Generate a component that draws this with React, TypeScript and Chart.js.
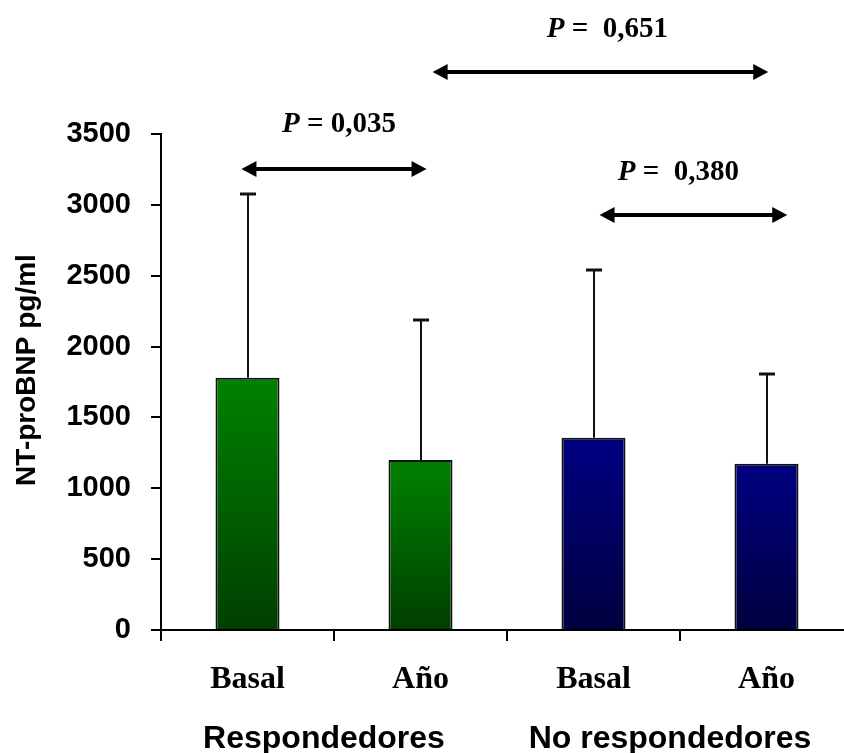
import { useEffect, useRef } from "react";
import { Chart, registerables } from "chart.js";

Chart.register(...registerables);

// Bars: mean NT-proBNP (pg/ml) per group and time point
const categories = ["Basal", "Año", "Basal", "Año"];
const groups = ["Respondedores", "No respondedores"];
const medias = [1780, 1200, 1357, 1174];
// Upper error bar (standard deviation) above each mean
const desviaciones = [1295, 988, 1185, 635];
const yTickStep = 500;
const yMax = 3500;

// Comparisons: arrow span (category units), arrow level and P-value labels
const compDesde = [-0.035, 1.07, 2.035];
const compHasta = [1.035, 3.01, 3.12];
const compNivel = [3253, 3937, 2928];
const compTexto = ["= 0,035", "=  0,651", "=  0,380"];
const compTextoX = [0.2, 1.73, 2.14];
const compTextoNivel = [3514, 4184, 3175];

const greenStops = ["#008000", "#007a00", "#003f00"];
const blueStops = ["#000080", "#00007a", "#00003f"];

const SANS = '"Liberation Sans", Arial, sans-serif';
const SERIF = '"Liberation Serif", "Times New Roman", serif';

const overlayPlugin = {
  id: "overlay",
  beforeDatasetsDraw(chart: any) {
    const { ctx } = chart;
    const xs = chart.scales.x;
    const ys = chart.scales.y;
    ctx.save();
    ctx.strokeStyle = "#111";
    medias.forEach((m, i) => {
      const x = Math.round(xs.getPixelForValue(i));
      const yb = ys.getPixelForValue(m);
      const yt = Math.round(ys.getPixelForValue(m + desviaciones[i]));
      ctx.lineWidth = 2;
      ctx.beginPath();
      ctx.moveTo(x, yb);
      ctx.lineTo(x, yt);
      ctx.stroke();
      ctx.lineWidth = 3;
      ctx.beginPath();
      ctx.moveTo(x - 8, yt);
      ctx.lineTo(x + 8, yt);
      ctx.stroke();
    });
    ctx.restore();
  },
  afterDraw(chart: any) {
    const { ctx } = chart;
    const xs = chart.scales.x;
    const ys = chart.scales.y;
    ctx.save();
    ctx.fillStyle = "#000";
    ctx.strokeStyle = "#000";

    // double-headed arrows
    compDesde.forEach((d, i) => {
      const x1 = xs.getPixelForValue(d);
      const x2 = xs.getPixelForValue(compHasta[i]);
      const y = ys.getPixelForValue(compNivel[i]);
      const hl = 15;
      const hw = 8;
      ctx.lineWidth = 4;
      ctx.beginPath();
      ctx.moveTo(x1 + hl - 2, y);
      ctx.lineTo(x2 - hl + 2, y);
      ctx.stroke();
      ctx.beginPath();
      ctx.moveTo(x1, y);
      ctx.lineTo(x1 + hl, y - hw);
      ctx.lineTo(x1 + hl, y + hw);
      ctx.closePath();
      ctx.fill();
      ctx.beginPath();
      ctx.moveTo(x2, y);
      ctx.lineTo(x2 - hl, y - hw);
      ctx.lineTo(x2 - hl, y + hw);
      ctx.closePath();
      ctx.fill();

      // P-value label
      const tx = xs.getPixelForValue(compTextoX[i]);
      const ty = ys.getPixelForValue(compTextoNivel[i]);
      ctx.textBaseline = "alphabetic";
      ctx.textAlign = "left";
      ctx.font = `italic bold 29px ${SERIF}`;
      ctx.fillText("P", tx, ty);
      const w = ctx.measureText("P").width;
      ctx.font = `bold 29px ${SERIF}`;
      ctx.fillText(" " + compTexto[i], tx + w, ty);
    });

    // group labels under the category labels
    ctx.font = `bold 32px ${SANS}`;
    ctx.textAlign = "center";
    ctx.textBaseline = "alphabetic";
    groups.forEach((g, gi) => {
      const cx = (xs.getPixelForValue(gi * 2) + xs.getPixelForValue(gi * 2 + 1)) / 2 - 10;
      ctx.fillText(g, cx, 748);
    });

    // y-axis title
    ctx.translate(27, 370);
    ctx.rotate(-Math.PI / 2);
    ctx.font = `bold 28px ${SANS}`;
    ctx.textAlign = "center";
    ctx.textBaseline = "middle";
    ctx.fillText("NT-proBNP pg/ml", 0, 0);
    ctx.restore();
  },
};

export default function App() {
  const canvasRef = useRef<HTMLCanvasElement | null>(null);

  useEffect(() => {
    const canvas = canvasRef.current;
    if (!canvas) return;
    const chart = new Chart(canvas, {
      type: "bar",
      data: {
        labels: categories,
        datasets: [
          {
            data: medias,
            backgroundColor: (c: any) => {
              const i = c.dataIndex;
              const stops = i != null && i >= 2 ? blueStops : greenStops;
              const ys = c.chart.scales?.y;
              if (i == null || !ys) return stops[0];
              const top = ys.getPixelForValue(medias[i]);
              const bottom = ys.getPixelForValue(0);
              if (!Number.isFinite(top) || !Number.isFinite(bottom) || top === bottom) {
                return stops[0];
              }
              const g = c.chart.ctx.createLinearGradient(0, top, 0, bottom);
              g.addColorStop(0, stops[0]);
              g.addColorStop(0.12, stops[1]);
              g.addColorStop(1, stops[2]);
              return g;
            },
            borderColor: "#111",
            borderWidth: 2,
            borderSkipped: "bottom",
            barPercentage: 0.37,
            categoryPercentage: 1,
          },
        ],
      },
      options: {
        animation: false,
        responsive: false,
        devicePixelRatio: 1,
        layout: { padding: { top: 134, right: 17, bottom: 10, left: 0 } },
        plugins: {
          legend: { display: false },
          tooltip: { enabled: false },
        },
        scales: {
          x: {
            type: "category",
            grid: {
              offset: true,
              drawOnChartArea: false,
              tickLength: 11,
              color: "#000",
              lineWidth: 2,
            },
            border: { color: "#000", width: 2 },
            ticks: {
              color: "#000",
              font: { family: SERIF, weight: "bold", size: 32 },
              padding: 20,
              maxRotation: 0,
              autoSkip: false,
            },
            afterFit: (s: any) => {
              s.height = 113;
            },
          },
          y: {
            min: 0,
            max: yMax,
            grid: {
              drawOnChartArea: false,
              tickLength: 10,
              color: "#000",
              lineWidth: 2,
            },
            border: { color: "#000", width: 2 },
            ticks: {
              stepSize: yTickStep,
              color: "#000",
              font: { family: SANS, weight: "bold", size: 29 },
              padding: 20,
              callback: (v: any) => String(v),
            },
            afterFit: (s: any) => {
              s.width = 161;
            },
          },
        },
      },
      plugins: [overlayPlugin],
    });
    return () => chart.destroy();
  }, []);

  return (
    <div
      style={{
        position: "fixed",
        left: 0,
        top: 0,
        width: 844,
        height: 753,
        overflow: "hidden",
        background: "#fff",
      }}
    >
      <canvas ref={canvasRef} width={870} height={753} style={{ display: "block" }} />
    </div>
  );
}
